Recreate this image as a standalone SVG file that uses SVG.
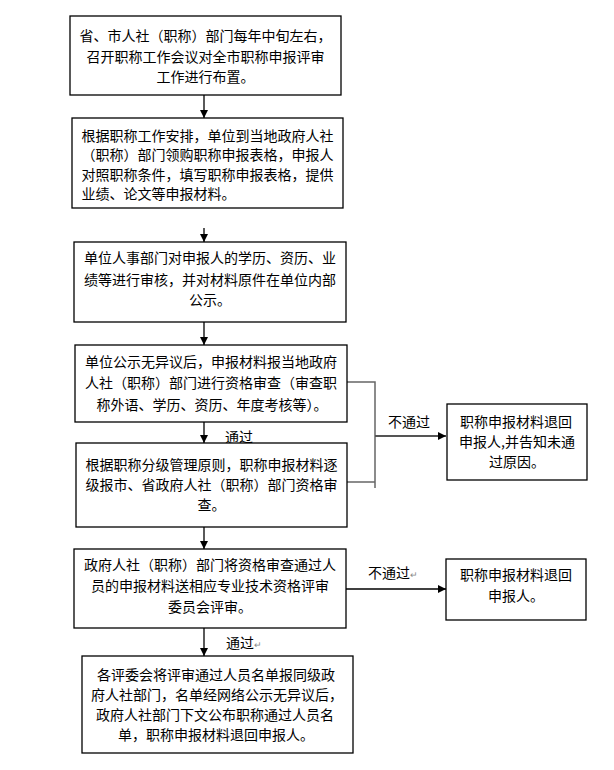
<svg xmlns="http://www.w3.org/2000/svg" width="614" height="770" viewBox="0 0 614 770">
<defs>
<marker id="ah" viewBox="0 0 10 10" refX="10" refY="5" markerWidth="9" markerHeight="8" markerUnits="userSpaceOnUse" orient="auto">
<path d="M0,0 L10,5 L0,10 z" fill="#000"/>
</marker>
<style>
.box{fill:#fff;stroke:#000;stroke-width:1.3}
.t{font-family:"Noto Sans CJK SC","Noto Sans CJK JP",sans-serif;font-size:14px;fill:#000}
.c{text-anchor:middle}
.ln{stroke:#000;stroke-width:1.3;fill:none}
.gr{stroke:#666;stroke-width:1.5;fill:none}
.ret{font-size:9px;fill:#888}
</style>
</defs>
<rect width="614" height="770" fill="#fff"/>
<g id="connectors">
<line class="ln" x1="204" y1="95" x2="204" y2="118" marker-end="url(#ah)"/>
<line class="ln" x1="204" y1="228" x2="204" y2="242" marker-end="url(#ah)"/>
<line class="ln" x1="204" y1="322" x2="204" y2="345" marker-end="url(#ah)"/>
<line class="ln" x1="204" y1="422" x2="204" y2="443" marker-end="url(#ah)"/>
<line class="ln" x1="204" y1="527" x2="204" y2="549" marker-end="url(#ah)"/>
<line class="ln" x1="204" y1="628" x2="204" y2="656" marker-end="url(#ah)"/>
<polyline class="gr" points="347,382 375,382 375,488"/>
<line class="gr" x1="347" y1="482" x2="375" y2="482"/>
<line x1="375" y1="436" x2="446" y2="436" stroke="#555" stroke-width="2.2" marker-end="url(#ah)"/>
<line class="ln" x1="346" y1="589" x2="446" y2="589" marker-end="url(#ah)"/>
<text class="t" x="225" y="442">通过</text>
<text class="t" x="388" y="427">不通过</text>
<text class="t" x="368" y="578">不通过<tspan class="ret">↵</tspan></text>
<text class="t" x="226" y="648">通过<tspan class="ret">↵</tspan></text>
</g>
<g id="n1">
<rect class="box" x="70" y="16" width="271" height="79"/>
<text class="t c" x="205.5" y="41">省、市人社（职称）部门每年中旬左右，</text>
<text class="t c" x="205.5" y="62">召开职称工作会议对全市职称申报评审</text>
<text class="t c" x="205.5" y="82">工作进行布置。</text>
</g>
<g id="n2">
<rect class="box" x="72" y="118" width="271" height="90"/>
<text class="t" x="81.5" y="141">根据职称工作安排，单位到当地政府人社</text>
<text class="t" x="81.5" y="160">（职称）部门领购职称申报表格，申报人</text>
<text class="t" x="81.5" y="180">对照职称条件，填写职称申报表格，提供</text>
<text class="t" x="81.5" y="199">业绩、论文等申报材料。</text>
</g>
<g id="n3">
<rect class="box" x="74" y="242" width="272" height="80"/>
<text class="t c" x="210" y="263">单位人事部门对申报人的学历、资历、业</text>
<text class="t c" x="210" y="285">绩等进行审核，并对材料原件在单位内部</text>
<text class="t c" x="210" y="305">公示。</text>
</g>
<g id="n4">
<rect class="box" x="75" y="345" width="272" height="77"/>
<text class="t c" x="211" y="367">单位公示无异议后，申报材料报当地政府</text>
<text class="t c" x="211" y="388">人社（职称）部门进行资格审查（审查职</text>
<text class="t c" x="212" y="410">称外语、学历、资历、年度考核等）。</text>
</g>
<g id="n5">
<rect class="box" x="76" y="443" width="271" height="84"/>
<text class="t c" x="211.5" y="470">根据职称分级管理原则，职称申报材料逐</text>
<text class="t c" x="211.5" y="490">级报市、省政府人社（职称）部门资格审</text>
<text class="t c" x="211.5" y="510">查。</text>
</g>
<g id="n6">
<rect class="box" x="74" y="549" width="272" height="79"/>
<text class="t c" x="210" y="570">政府人社（职称）部门将资格审查通过人</text>
<text class="t c" x="210" y="591">员的申报材料送相应专业技术资格评审</text>
<text class="t c" x="210" y="612">委员会评审。</text>
</g>
<g id="n7">
<rect class="box" x="82" y="656" width="271" height="97"/>
<text class="t c" x="216" y="680">各评委会将评审通过人员名单报同级政</text>
<text class="t c" x="217" y="700">府人社部门，名单经网络公示无异议后，</text>
<text class="t c" x="215" y="720">政府人社部门下文公布职称通过人员名</text>
<text class="t c" x="216" y="740">单，职称申报材料退回申报人。</text>
</g>
<g id="r1">
<rect class="box" x="447" y="404" width="140" height="76"/>
<text class="t c" x="516" y="427">职称申报材料退回</text>
<text class="t c" x="517" y="447">申报人,并告知未通</text>
<text class="t c" x="517" y="467">过原因。</text>
</g>
<g id="r2">
<rect class="box" x="446" y="559" width="140" height="61"/>
<text class="t c" x="516" y="580">职称申报材料退回</text>
<text class="t c" x="516" y="601">申报人。</text>
</g>
</svg>
